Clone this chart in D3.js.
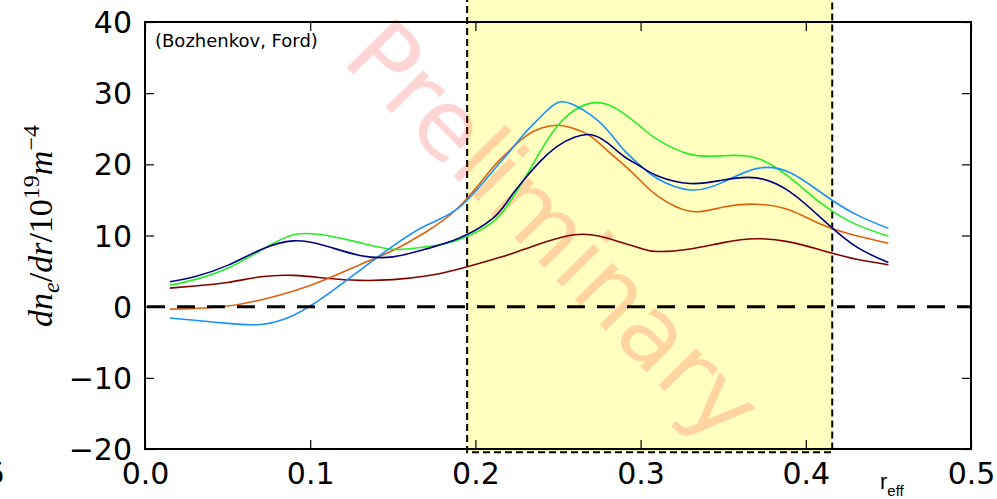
<!DOCTYPE html>
<html>
<head>
<meta charset="utf-8">
<script src="https://cdn.jsdelivr.net/npm/d3@7"></script>
<style>
  html, body { margin: 0; padding: 0; background: #ffffff; }
  svg { display: block; }
</style>
</head>
<body>
<svg id="chart" width="997" height="499"></svg>
<script>
// Effective radius grid shared by all profiles
const reff = [0.015, 0.03, 0.05, 0.07, 0.09, 0.11, 0.13, 0.15, 0.17, 0.19, 0.21, 0.22, 0.23, 0.24,
              0.25, 0.26, 0.27, 0.28, 0.29, 0.30, 0.31, 0.33, 0.35, 0.37, 0.39, 0.41, 0.43, 0.45];

// Density gradient profiles dn_e/dr [10^19 m^-4]
const navyProfile   = [3.5, 4.2, 5.8, 8.0, 9.25, 8.5, 7.2, 7.0, 8.1, 9.6, 12.3, 15.0, 18.0, 20.6,
                       22.6, 23.8, 24.15, 23.0, 21.1, 19.7, 18.4, 17.3, 17.8, 18.1, 16.2, 12.3, 8.5, 6.2];
const greenProfile  = [3.0, 3.8, 5.4, 7.9, 10.1, 10.0, 9.0, 8.05, 8.4, 9.4, 11.8, 14.4, 18.1, 22.1,
                       25.5, 27.6, 28.6, 28.4, 27.1, 25.3, 23.5, 21.4, 21.2, 20.9, 18.2, 14.4, 11.6, 9.9];
const blueProfile   = [-1.6, -1.9, -2.35, -2.5, -1.2, 1.65, 5.1, 8.5, 11.4, 13.9, 18.9, 21.6, 24.4, 26.8,
                       28.7, 28.3, 26.9, 24.8, 22.0, 19.8, 18.0, 16.4, 17.5, 19.4, 18.9, 15.9, 13.0, 11.0];
const orangeProfile = [-0.35, -0.25, 0.1, 0.95, 2.2, 3.9, 5.9, 7.9, 10.5, 14.0, 19.4, 21.8, 23.9, 25.1,
                       25.5, 25.0, 23.9, 21.9, 19.9, 17.7, 15.6, 13.4, 14.0, 14.4, 13.6, 11.5, 10.0, 8.9];
const redProfile    = [2.6, 2.9, 3.4, 4.2, 4.4, 4.0, 3.7, 3.8, 4.3, 5.3, 6.6, 7.3, 8.1, 8.9,
                       9.6, 10.1, 10.1, 9.6, 8.9, 8.2, 7.75, 8.1, 9.0, 9.55, 9.1, 7.9, 6.7, 5.9];

const profiles = [
  { values: redProfile,    color: "#800000" },
  { values: orangeProfile, color: "#e0600a" },
  { values: greenProfile,  color: "#22f022" },
  { values: blueProfile,   color: "#1890ff" },
  { values: navyProfile,   color: "#000080" }
];

// Axis ticks
const xTicks = [0.0, 0.1, 0.2, 0.3, 0.4, 0.5];
const yTicks = [-20, -10, 0, 10, 20, 30, 40];

// Highlighted radial interval
const bandRange = [0.195, 0.416];

const svg = d3.select("#chart");
const L = 145, R = 971, T = 22, B = 449;

const x = d3.scaleLinear().domain([0, 0.5]).range([L, R]);
const y = d3.scaleLinear().domain([-20, 40]).range([B, T]);

const tickFont = "DejaVu Sans, sans-serif";

// Highlight band (extends a little past the frame)
svg.append("rect")
  .attr("x", x(bandRange[0]))
  .attr("y", y(44))
  .attr("width", x(bandRange[1]) - x(bandRange[0]))
  .attr("height", y(-20.45) - y(44))
  .attr("fill", "#ffffbf")
  .attr("stroke", "#000")
  .attr("stroke-width", 2)
  .attr("stroke-dasharray", "7,4");

// Watermark
svg.append("text")
  .attr("transform", "translate(530,254) rotate(45.5)")
  .attr("text-anchor", "middle")
  .attr("font-family", tickFont)
  .attr("font-size", 96)
  .attr("fill", "#ff0000")
  .attr("fill-opacity", 0.17)
  .text("Preliminary");

// Profiles
const line = d3.line()
  .x((d, i) => x(reff[i]))
  .y(d => y(d))
  .curve(d3.curveNatural);

svg.append("g").selectAll("path")
  .data(profiles)
  .join("path")
  .attr("d", d => line(d.values))
  .attr("fill", "none")
  .attr("stroke", d => d.color)
  .attr("stroke-width", 1.6);

// Zero reference line
svg.append("line")
  .attr("x1", x(0)).attr("x2", x(0.5))
  .attr("y1", y(0)).attr("y2", y(0))
  .attr("stroke", "#000")
  .attr("stroke-width", 3)
  .attr("stroke-dasharray", "18,12")
  .attr("stroke-dashoffset", -2);

// Axes: ticks pointing inward on all four sides
const axisBottom = d3.axisBottom(x).tickValues(xTicks).tickSizeInner(-9).tickSizeOuter(0).tickFormat(d3.format(".1f"));
const axisTop = d3.axisTop(x).tickValues(xTicks).tickSizeInner(-9).tickSizeOuter(0).tickFormat("");
const fmtY = d => (d < 0 ? "\u2212" + Math.abs(d) : String(d));
const axisLeft = d3.axisLeft(y).tickValues(yTicks).tickSizeInner(-9).tickSizeOuter(0).tickFormat(fmtY);
const axisRight = d3.axisRight(y).tickValues(yTicks).tickSizeInner(-9).tickSizeOuter(0).tickFormat("");

function styleAxis(g) {
  g.select(".domain").remove();
  g.selectAll(".tick line").attr("stroke", "#000").attr("stroke-width", 1.2);
  g.selectAll(".tick text").attr("font-family", tickFont).attr("font-size", 30).attr("fill", "#000");
}

const gb = svg.append("g").attr("transform", `translate(0,${B})`).call(axisBottom).call(styleAxis);
gb.selectAll(".tick text").attr("y", 35).attr("dy", 0);
svg.append("g").attr("transform", `translate(0,${T})`).call(axisTop).call(styleAxis);
const gl = svg.append("g").attr("transform", `translate(${L},0)`).call(axisLeft).call(styleAxis);
gl.selectAll(".tick text").attr("x", -13).attr("dy", "0.35em");
svg.append("g").attr("transform", `translate(${R},0)`).call(axisRight).call(styleAxis);

// Frame
svg.append("rect")
  .attr("x", L).attr("y", T)
  .attr("width", R - L).attr("height", B - T)
  .attr("fill", "none")
  .attr("stroke", "#000")
  .attr("stroke-width", 2);

// Attribution
svg.append("text")
  .attr("x", 155).attr("y", 47)
  .attr("font-family", tickFont)
  .attr("font-size", 18)
  .attr("fill", "#000")
  .text("(Bozhenkov, Ford)");

// x-axis label r_eff
const xl = svg.append("text")
  .attr("x", 880).attr("y", 489)
  .attr("font-family", "Liberation Sans, Arial, sans-serif")
  .attr("font-size", 22)
  .attr("fill", "#000");
xl.append("tspan").text("r");
xl.append("tspan").attr("dy", 7).attr("font-size", 15).text("eff");

// partial label at the left edge
svg.append("text")
  .attr("x", 5).attr("y", 484)
  .attr("text-anchor", "end")
  .attr("font-family", tickFont)
  .attr("font-size", 30)
  .attr("fill", "#000")
  .text("0.5");

// y-axis label dn_e/dr/10^19 m^-4
const yl = svg.append("text")
  .attr("transform", "translate(52,226) rotate(-90)")
  .attr("text-anchor", "middle")
  .attr("font-family", "Liberation Serif, serif")
  .attr("font-style", "italic")
  .attr("font-size", 34)
  .attr("fill", "#000");
yl.append("tspan").text("dn");
yl.append("tspan").attr("dy", 7).attr("font-size", 24).text("e");
yl.append("tspan").attr("dy", -7).attr("font-style", "normal").text("/");
yl.append("tspan").text("dr");
yl.append("tspan").attr("font-style", "normal").text("/10");
yl.append("tspan").attr("dy", -13).attr("font-size", 24).attr("font-style", "normal").text("19");
yl.append("tspan").attr("dy", 13).text("m");
yl.append("tspan").attr("dy", -13).attr("font-size", 24).attr("font-style", "normal").text("\u22124");
</script>
</body>
</html>
